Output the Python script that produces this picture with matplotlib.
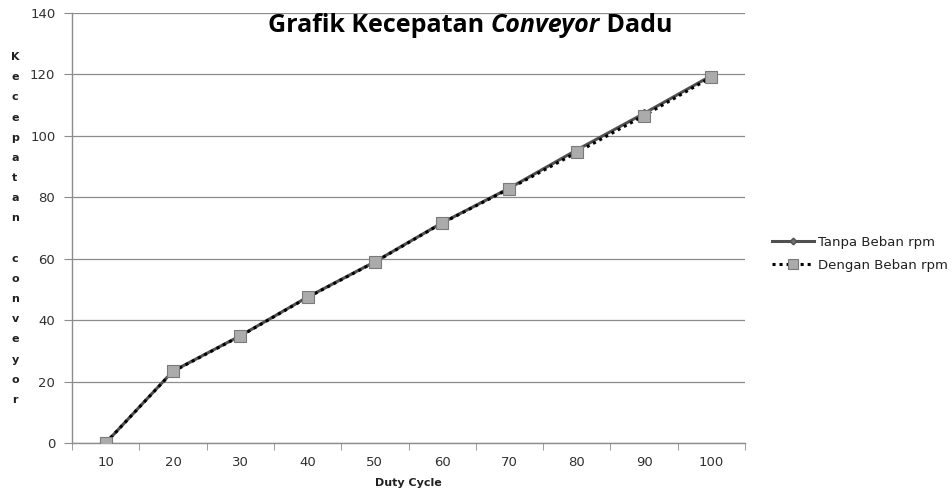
import matplotlib
matplotlib.use('Agg')
import matplotlib.pyplot as plt
import numpy as np

# data
duty_cycle = [10, 20, 30, 40, 50, 60, 70, 80, 90, 100]
tanpa_beban = [0, 23.4, 34.9, 47.5, 59.0, 71.7, 83.0, 95.4, 107.3, 119.6]
dengan_beban = [0, 23.3, 34.8, 47.4, 58.9, 71.6, 82.8, 94.6, 106.6, 119.1]
y_ticks = [0, 20, 40, 60, 80, 100, 120, 140]
ylabel_text = "Kecepatan conveyor"

fig = plt.figure(figsize=(9.52, 4.92), dpi=100)
ax = fig.add_axes([72/952, 49/492, (745-72)/952, (443-13)/492])

x = np.arange(len(duty_cycle))
ax.plot(x, tanpa_beban, color='#505050', lw=2.2, marker='D', ms=4,
        mfc='#707070', mec='#505050', label='Tanpa Beban rpm', zorder=3)
ax.plot(x, dengan_beban, color='black', lw=2.2, ls=(0, (1, 1.3)), marker='s', ms=8,
        mfc='#ababab', mec='#7a7a7a', mew=0.8, label='Dengan Beban rpm', zorder=4)

ax.set_xlim(-0.5, len(duty_cycle) - 0.5)
ax.set_ylim(0, 140)
ax.set_yticks(y_ticks)
ax.set_xticks(x)
ax.set_xticklabels([str(d) for d in duty_cycle])
ax.set_xticks(np.arange(-0.5, len(duty_cycle)), minor=True)
ax.tick_params(axis='x', which='major', length=0, pad=9, labelsize=9.5, labelcolor='#303030')
ax.tick_params(axis='x', which='minor', length=5, direction='out', color='#8c8c8c')
ax.tick_params(axis='y', length=6, direction='out', color='#8c8c8c', labelsize=9.5,
               labelcolor='#303030', pad=6)
ax.yaxis.grid(True, color='#8c8c8c', lw=0.9)
ax.set_axisbelow(True)
for s in ['top', 'right']:
    ax.spines[s].set_visible(False)
for s in ['left', 'bottom']:
    ax.spines[s].set_color('#8c8c8c')
    ax.spines[s].set_linewidth(1.0)

ax.set_xlabel('Duty Cycle', fontsize=8, fontweight='bold', color='#202020', labelpad=7)

# stacked vertical y label
chars = list(ylabel_text)
y0 = 57
step = (400 - 57) / (len(chars) - 1)
for i, c in enumerate(chars):
    fig.text(15/952, 1 - (y0 + i*step)/492, c, ha='center', va='center',
             fontsize=8, fontweight='bold', color='#202020')

# title with italic word
fig.canvas.draw()
r = fig.canvas.get_renderer()
parts = [("Grafik Kecepatan ", 'normal'), ("Conveyor", 'italic'), (" Dadu", 'normal')]
tx = 268
ty = 1 - 25/492
for txt, st in parts:
    t = fig.text(tx/952, ty, txt, ha='left', va='center', fontsize=18, fontweight='bold',
                 style=st, family='Open Sans', color='black')
    bb = t.get_window_extent(r)
    tx += bb.width

fig.legend(loc='center left', bbox_to_anchor=(772/952, 1 - 254/492), frameon=False,
           fontsize=9.5, handlelength=3.2, handletextpad=0.25, labelspacing=0.75,
           borderpad=0, borderaxespad=0, markerscale=0.85, labelcolor='#202020')

fig.savefig('out.png', dpi=100)
